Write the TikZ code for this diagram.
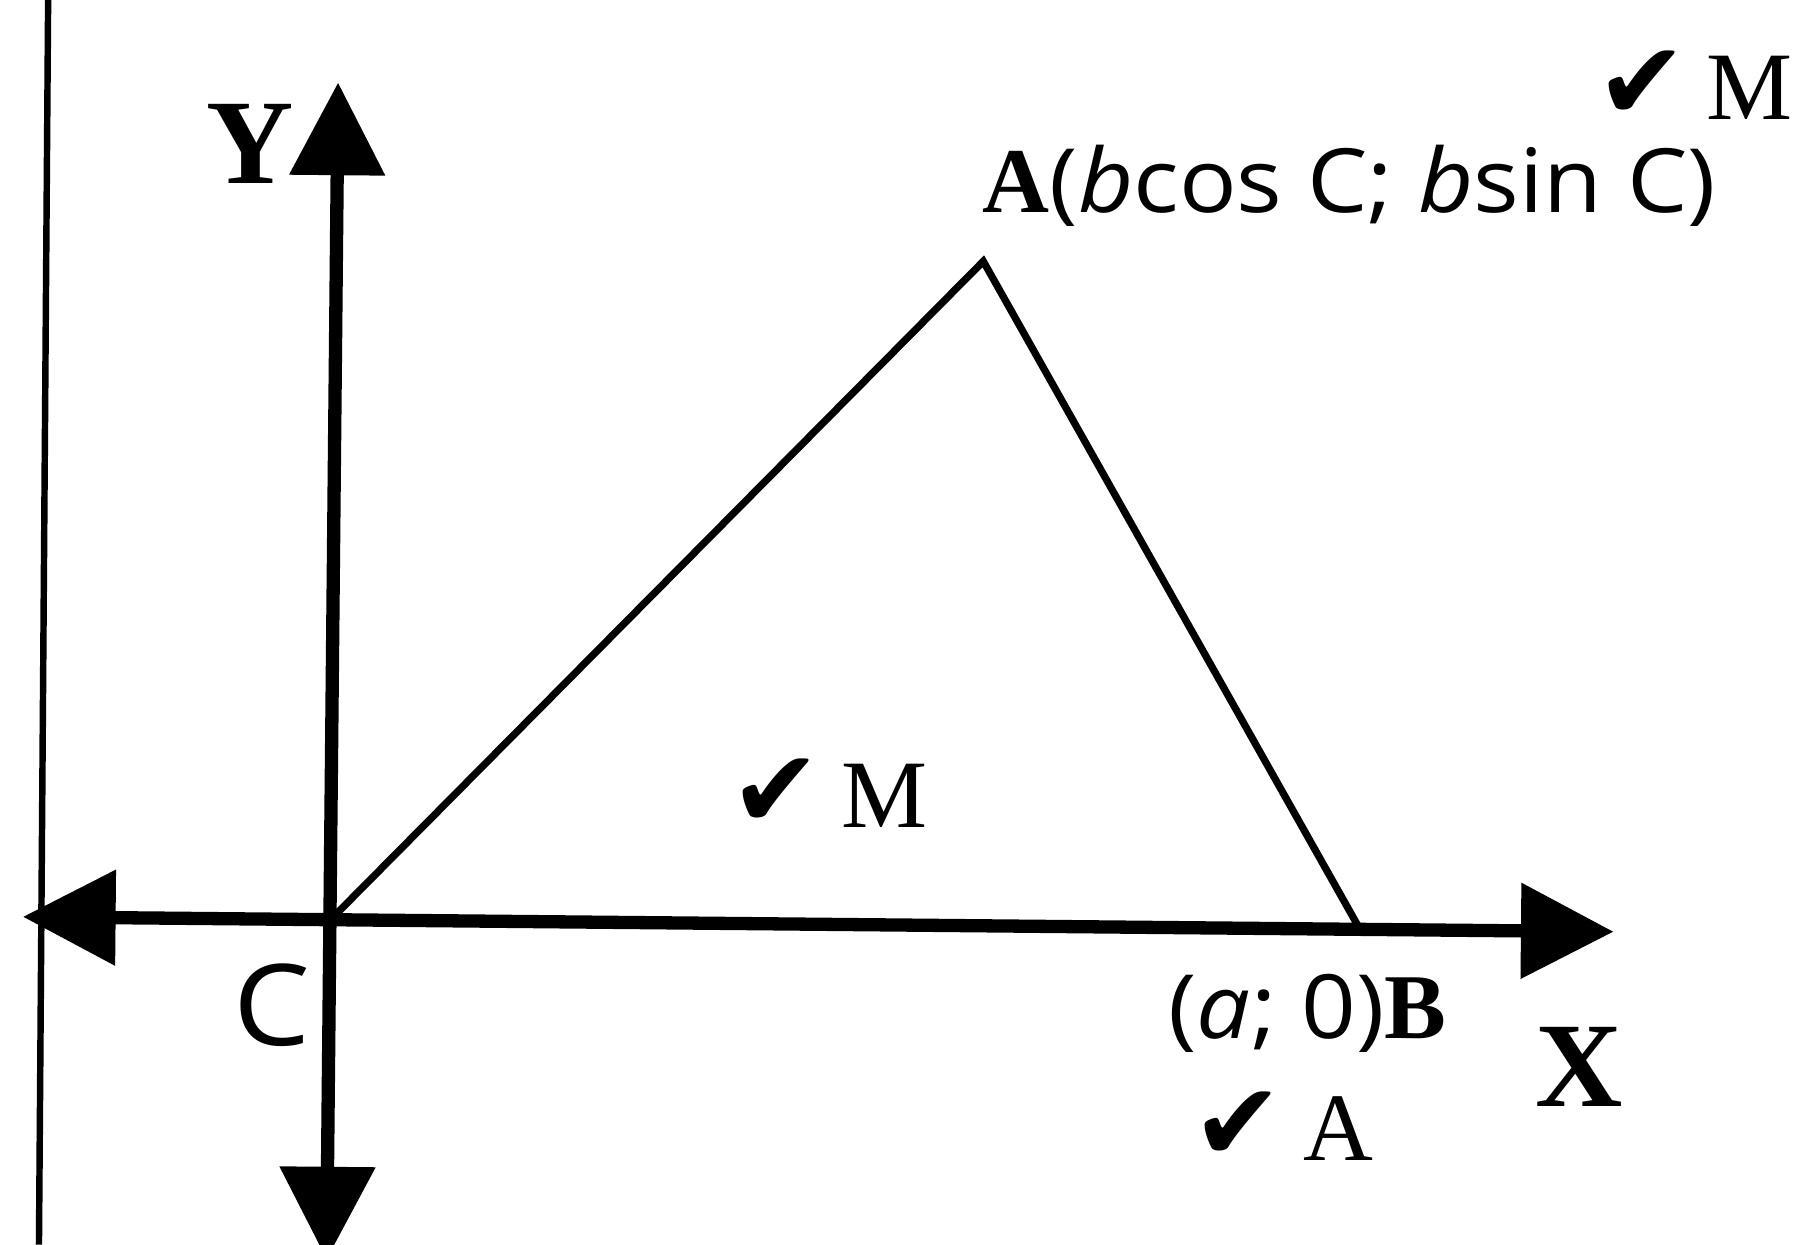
\documentclass[tikz,border=0pt]{standalone}
\usepackage{fontspec}
\setmainfont{Liberation Serif}
\newfontfamily\labfont[FakeStretch=1.08]{Open Sans}
\newfontfamily\symfont{DejaVu Sans}
\usetikzlibrary{arrows.meta}
\newcommand{\chk}{{\symfont\fontsize{27}{27}\selectfont ✔}\hspace{0.2em}}
\begin{document}
\begin{tikzpicture}[x=0.01cm,y=-0.01cm,
  axis/.style={line width=3.3pt,
    {Triangle[length=23pt,width=23pt]}-{Triangle[length=23pt,width=23pt]}},
  side/.style={line width=1.8pt, line join=miter},
  frame/.style={line width=1.6pt},
  lbl/.style={inner sep=0pt, anchor=base west},
  big/.style={inner sep=0pt, font=\fontsize{30}{30}\selectfont\bfseries}
]
\useasboundingbox (0,0) rectangle (1568,1086);
% frame line at left
\coordinate (ft) at (42,0);
\coordinate (fb) at (34,1086);
\draw[frame] (ft) -- (fb);
% axes
\coordinate (C) at (288,803);
\coordinate (xl) at (20,800);
\coordinate (xr) at (1408,813);
\coordinate (yt) at (295,72);
\coordinate (yb) at (285,1099);
\draw[axis] (xl) -- (xr);
\draw[axis] (yb) -- (yt);
% triangle
\coordinate (A) at (858,228);
\coordinate (B) at (1185,808);
\draw[side] (C) -- (A) -- (B);
% labels
\node[big] (ylab) at (218,126) {Y};
\node[big] (xlab) at (1378,931) {X};
\node[inner sep=0pt, font=\fontsize{28}{28}\selectfont\labfont] (clab) at (237,877) {C};
\node[lbl, font=\fontsize{23}{23}\selectfont] (alab) at (857,185)
  {\textbf{A}{\fontsize{22}{22}\selectfont\labfont(\textit{b}cos C; \textit{b}sin C)}};
\node[lbl, font=\fontsize{23}{23}\selectfont] (blab) at (1019,906)
  {{\fontsize{22}{22}\selectfont\labfont(\textit{a}; 0)}\textbf{B}};
\node[lbl, font=\fontsize{24}{24}\selectfont] (m1) at (1392,104) {\chk M};
\node[lbl, font=\fontsize{24}{24}\selectfont] (m2) at (637,722) {\chk M};
\node[lbl, font=\fontsize{24}{24}\selectfont] (a1) at (1040,1013) {\chk A};
\end{tikzpicture}
\end{document}
